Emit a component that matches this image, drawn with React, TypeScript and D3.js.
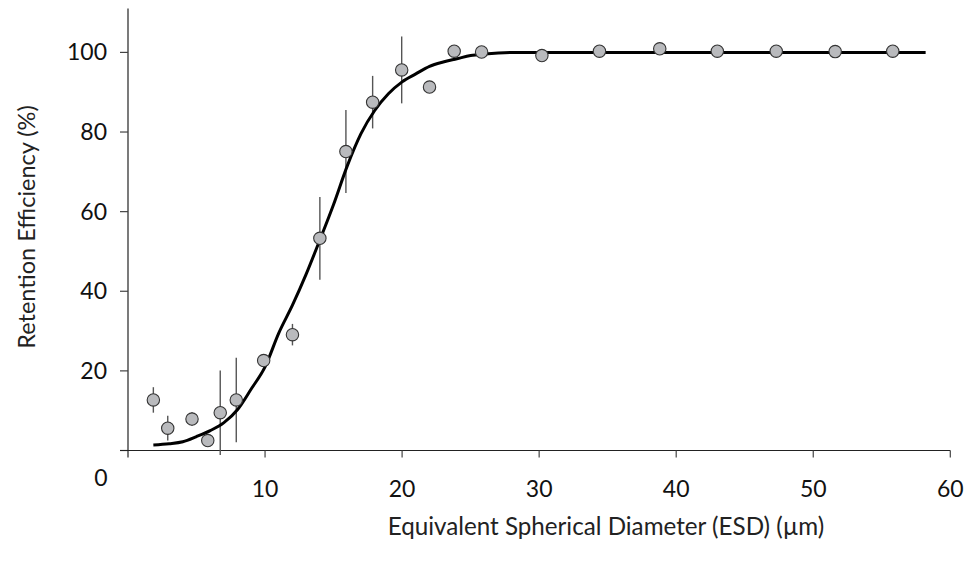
import React from "react";
import * as d3 from "d3";

const esd = [1.85, 2.9, 4.67, 5.82, 6.73, 7.9, 9.9, 12.0, 14.0, 15.9, 17.85, 19.97, 22.0, 23.8, 25.8, 30.2, 34.4, 38.8, 43.0, 47.3, 51.6, 55.8];
const retention = [12.7, 5.6, 7.9, 2.5, 9.5, 12.7, 22.6, 29.1, 53.3, 75.1, 87.5, 95.6, 91.3, 100.3, 100.1, 99.2, 100.3, 100.9, 100.3, 100.3, 100.2, 100.3];
const errors = [3.2, 3.1, 1.7, 1.5, 10.6, 10.6, 1.0, 2.7, 10.4, 10.4, 6.6, 8.4, 1.5, 1.5, 0.5, 0, 0, 0, 0, 0, 0, 0];

const fitX = [1.85, 3, 4, 5, 6, 7, 8, 9, 10, 11, 12, 13, 14, 15, 16, 17, 18, 19, 20, 21, 22, 23, 24, 25, 26, 28, 30, 40, 50, 58.2];
const fitY = [1.4, 1.7, 2.2, 3.5, 5.0, 7.0, 10.3, 15.5, 21.0, 29.5, 36.5, 44.3, 52.9, 61.8, 71.5, 79.6, 85.4, 89.6, 92.6, 94.6, 96.5, 97.6, 98.4, 99.2, 99.6, 100, 100, 100, 100, 100];

const xTicks = [10, 20, 30, 40, 50, 60];
const yTicks = [20, 40, 60, 80, 100];

const FONT = "Lato, 'Open Sans', sans-serif";

export default function App() {
  const x = d3.scaleLinear().domain([0, 60]).range([128, 950.3]);
  const y = d3.scaleLinear().domain([0, 100]).range([450.5, 52.4]);
  const yTop = y(111);

  const line = d3
    .line<number>()
    .x((_, i) => x(fitX[i]))
    .y((d) => y(d))
    .curve(d3.curveMonotoneX);

  return (
    <svg
      width={969}
      height={562}
      style={{ position: "absolute", left: 0, top: 0, display: "block", background: "#fff" }}
      fontFamily={FONT}
    >
      <rect width={969} height={562} fill="#fff" />
      {/* y axis */}
      <line x1={x(0)} x2={x(0)} y1={yTop} y2={y(0) + 7} stroke="#222" strokeWidth={1.2} />
      {[0, ...yTicks].map((t) => (
        <line key={"yt" + t} x1={x(0) - 8} x2={x(0)} y1={y(t)} y2={y(t)} stroke="#444" strokeWidth={1.2} />
      ))}
      {yTicks.map((t) => (
        <text key={"yl" + t} x={107} y={y(t)} dy="0.35em" textAnchor="end" fontSize={23} fill="#111">
          {t}
        </text>
      ))}
      <text x={101} y={478} dy="0.35em" textAnchor="middle" fontSize={23} fill="#111">
        0
      </text>
      {/* x axis */}
      <line x1={x(0) - 8} x2={x(60)} y1={y(0)} y2={y(0)} stroke="#222" strokeWidth={1.2} />
      {xTicks.map((t) => (
        <line key={"xt" + t} x1={x(t)} x2={x(t)} y1={y(0)} y2={y(0) + 7} stroke="#444" strokeWidth={1.2} />
      ))}
      {xTicks.map((t) => (
        <text key={"xl" + t} x={x(t)} y={497} textAnchor="middle" fontSize={23} fill="#111">
          {t}
        </text>
      ))}
      {/* titles */}
      <text x={606} y={535} textAnchor="middle" fontSize={24.2} fill="#222">
        Equivalent Spherical Diameter (ESD) (µm)
      </text>
      <text
        transform={`translate(35,227) rotate(-90)`}
        textAnchor="middle"
        fontSize={23.5}
        fill="#222"
      >
        Retention Efficiency (%)
      </text>
      {/* error bars */}
      {esd.map((e, i) =>
        errors[i] > 0 ? (
          <line
            key={"eb" + i}
            x1={x(e)}
            x2={x(e)}
            y1={y(retention[i] - errors[i])}
            y2={y(retention[i] + errors[i])}
            stroke="#555"
            strokeWidth={1.4}
          />
        ) : null
      )}
      {/* fitted curve */}
      <path d={line(fitY) || ""} fill="none" stroke="#000" strokeWidth={3} strokeLinejoin="round" />
      {/* points */}
      {esd.map((e, i) => (
        <circle key={"p" + i} cx={x(e)} cy={y(retention[i])} r={6.2} fill="#b9babd" stroke="#333" strokeWidth={1.1} />
      ))}
    </svg>
  );
}
